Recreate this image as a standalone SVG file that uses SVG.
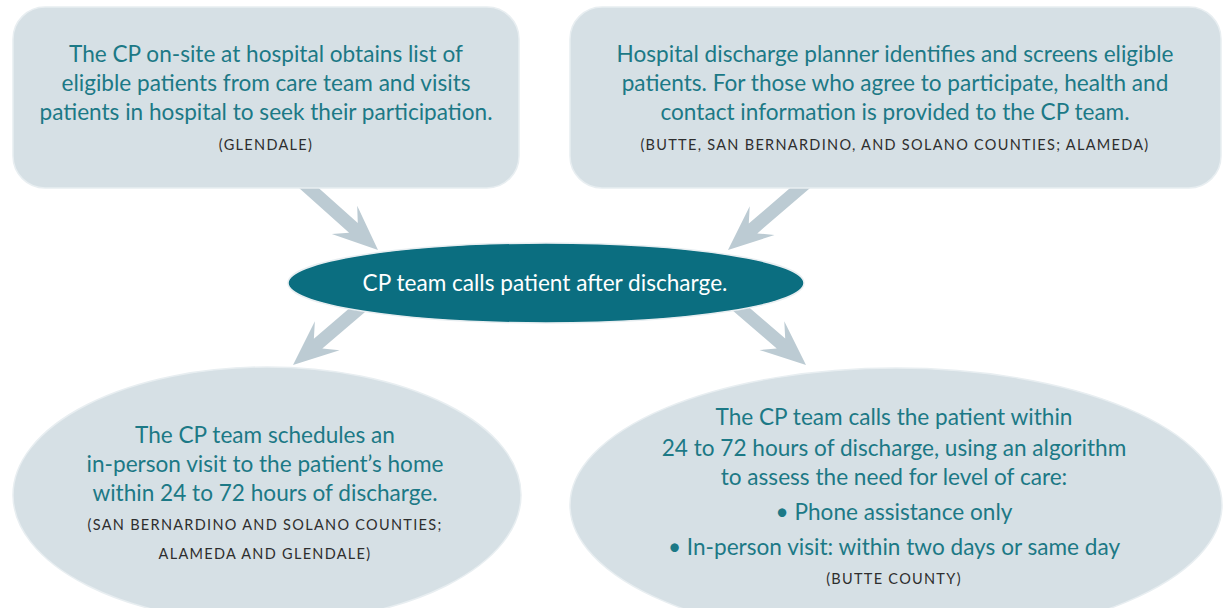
<svg xmlns="http://www.w3.org/2000/svg" width="1224" height="608" viewBox="0 0 1224 608">
  <style>
    .box { fill: #d6e0e5; stroke: #e8eef1; stroke-width: 1.5; }
    .hub { fill: #0b6e80; stroke: #e8eef1; stroke-width: 1.5; }
    .arrow { fill: #bccbd3; }
    .main { font-family: Lato, "Noto Sans", sans-serif; font-size: 22.6px; fill: #1c7986; text-anchor: middle; }
    .hubtext { font-family: Lato, "Noto Sans", sans-serif; font-size: 22.6px; fill: #ffffff; text-anchor: middle; }
    .note { font-family: Lato, "Noto Sans", sans-serif; font-size: 14.5px; fill: #2e2e2e; text-anchor: middle; letter-spacing: 1.3px; }
  </style>
  <defs>
    <!-- barbed arrow pointing along +x with its tip at the origin -->
    <path id="arrowShape" d="M0,0 L-45,-19 L-33,-6.5 L-110,-6.5 L-110,6.5 L-33,6.5 L-45,19 Z"/>
  </defs>
  <rect width="1224" height="608" fill="#ffffff"/>

  <g id="connectors" class="arrow">
    <use href="#arrowShape" transform="translate(378,250) rotate(41.9)"/>
    <use href="#arrowShape" transform="translate(728,250) rotate(139.3)"/>
    <use href="#arrowShape" transform="translate(293,365) rotate(139.5)"/>
    <use href="#arrowShape" transform="translate(806,365) rotate(40.7)"/>
  </g>

  <g id="node-glendale-intake">
    <rect class="box" x="13" y="7" width="506" height="181" rx="32" ry="32"/>
    <text class="main" x="266" y="62">The CP on-site at hospital obtains list of</text>
    <text class="main" x="266" y="91">eligible patients from care team and visits</text>
    <text class="main" x="266" y="120">patients in hospital to seek their participation.</text>
    <text class="note" x="266" y="150">(GLENDALE)</text>
  </g>

  <g id="node-discharge-planner">
    <rect class="box" x="570" y="7" width="651" height="181" rx="32" ry="32"/>
    <text class="main" x="895" y="62">Hospital discharge planner identifies and screens eligible</text>
    <text class="main" x="895" y="91">patients. For those who agree to participate, health and</text>
    <text class="main" x="895" y="120">contact information is provided to the CP team.</text>
    <text class="note" x="895" y="150">(BUTTE, SAN BERNARDINO, AND SOLANO COUNTIES; ALAMEDA)</text>
  </g>

  <g id="node-call">
    <ellipse class="hub" cx="546" cy="283" rx="258" ry="40"/>
    <text class="hubtext" x="545" y="291">CP team calls patient after discharge.</text>
  </g>

  <g id="node-home-visit">
    <ellipse class="box" cx="267" cy="495" rx="254" ry="128"/>
    <text class="main" x="265" y="443">The CP team schedules an</text>
    <text class="main" x="265" y="472">in-person visit to the patient’s home</text>
    <text class="main" x="265" y="501">within 24 to 72 hours of discharge.</text>
    <text class="note" x="265" y="530">(SAN BERNARDINO AND SOLANO COUNTIES;</text>
    <text class="note" x="265" y="559">ALAMEDA AND GLENDALE)</text>
  </g>

  <g id="node-phone-triage">
    <ellipse class="box" cx="896" cy="505" rx="326" ry="137"/>
    <text class="main" x="894" y="425">The CP team calls the patient within</text>
    <text class="main" x="894" y="456">24 to 72 hours of discharge, using an algorithm</text>
    <text class="main" x="894" y="485">to assess the need for level of care:</text>
    <text class="main" x="894" y="520">• Phone assistance only</text>
    <text class="main" x="894" y="555">• In-person visit: within two days or same day</text>
    <text class="note" x="894" y="584">(BUTTE COUNTY)</text>
  </g>
</svg>
